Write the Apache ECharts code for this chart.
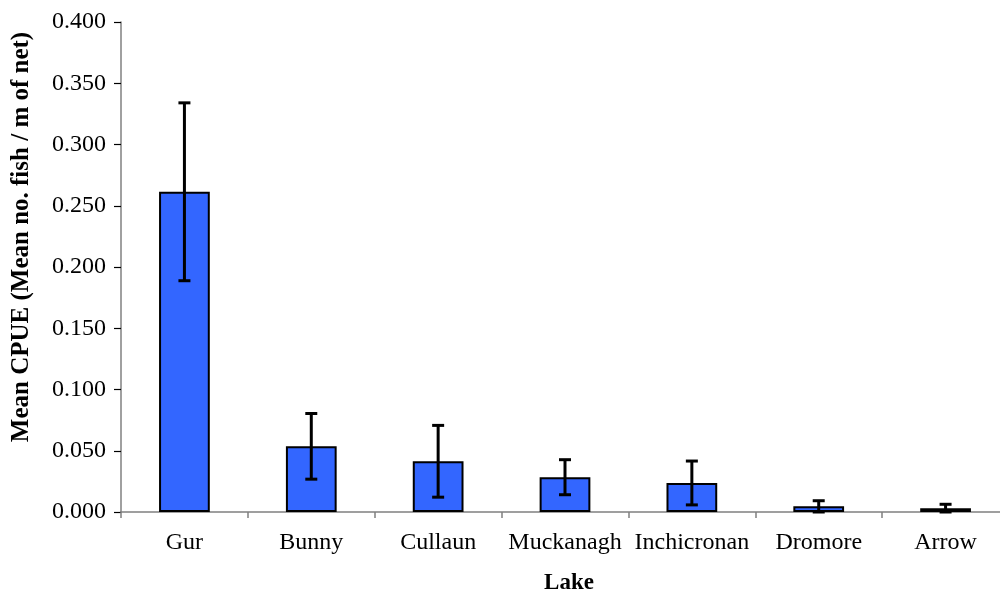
<!DOCTYPE html>
<html>
<head>
<meta charset="utf-8">
<script src="https://cdn.jsdelivr.net/npm/echarts@6/dist/echarts.min.js"></script>
<style>
  html, body { margin: 0; padding: 0; background: #fff; }
  #chart { width: 1000px; height: 595px; }
</style>
</head>
<body>
<div id="chart"></div>
<script>
// Mean catch per unit effort by lake, with standard error bars
const lakes = ['Gur', 'Bunny', 'Cullaun', 'Muckanagh', 'Inchicronan', 'Dromore', 'Arrow'];
const meanCpue = [0.2614, 0.0536, 0.0414, 0.0284, 0.0237, 0.0046, 0.0030];
const stdErr = [0.0726, 0.0268, 0.0293, 0.0143, 0.0179, 0.0046, 0.0033];
const yTicks = { min: 0, max: 0.4, interval: 0.05 };

const serif = '"Liberation Serif", "Times New Roman", serif';
const chart = echarts.init(document.getElementById('chart'), null, { renderer: 'canvas' });

const errData = lakes.map((_, i) => [i, meanCpue[i], stdErr[i]]);

chart.setOption({
  animation: false,
  backgroundColor: '#ffffff',
  grid: { left: 121, top: 22, bottom: 83, right: -9, containLabel: false, outerBoundsMode: 'none' },
  xAxis: {
    type: 'category',
    data: lakes,
    boundaryGap: true,
    name: 'Lake',
    nameLocation: 'middle',
    nameGap: 60,
    nameTextStyle: { fontFamily: serif, fontSize: 23, fontWeight: 'bold', color: '#000', padding: [0, 0, 0, 8] },
    axisLine: { lineStyle: { color: '#808080', width: 1.5 } },
    axisTick: { show: true, length: 6, lineStyle: { color: '#808080', width: 1.5 } },
    axisLabel: { fontFamily: serif, fontSize: 24, color: '#000', margin: 19, interval: 0 },
    splitLine: { show: false }
  },
  yAxis: {
    type: 'value',
    min: yTicks.min,
    max: yTicks.max,
    interval: yTicks.interval,
    axisLine: { show: true, lineStyle: { color: '#808080', width: 1.5 } },
    axisTick: { show: true, length: 7, lineStyle: { color: '#000', width: 1.2 } },
    axisLabel: { fontFamily: serif, fontSize: 24, color: '#000', margin: 15,
      formatter: v => v.toFixed(3) },
    splitLine: { show: false }
  },
  graphic: [{
    type: 'text',
    x: 22, y: 237,
    rotation: Math.PI / 2,
    style: {
      text: 'Mean CPUE (Mean no. fish / m of net)',
      font: 'bold 25px ' + serif,
      fill: '#000',
      align: 'center',
      verticalAlign: 'middle'
    }
  }],
  series: [
    {
      type: 'bar',
      data: meanCpue,
      barWidth: '40%',
      itemStyle: { color: '#3366FF', borderColor: '#000', borderWidth: 2 }
    },
    {
      type: 'custom',
      data: errData,
      z: 10,
      renderItem: function (params, api) {
        const idx = api.value(0);
        const m = api.value(1);
        const e = api.value(2);
        const lo = Math.max(m - e, 0);
        const top = api.coord([idx, m + e]);
        const bot = api.coord([idx, lo]);
        const cap = 6;
        const st = { stroke: '#000', lineWidth: 3 };
        return {
          type: 'group',
          children: [
            { type: 'line', shape: { x1: top[0], y1: top[1], x2: bot[0], y2: bot[1] }, style: st },
            { type: 'line', shape: { x1: top[0] - cap, y1: top[1], x2: top[0] + cap, y2: top[1] }, style: st },
            { type: 'line', shape: { x1: bot[0] - cap, y1: bot[1], x2: bot[0] + cap, y2: bot[1] }, style: st }
          ]
        };
      }
    }
  ]
});
</script>
</body>
</html>
